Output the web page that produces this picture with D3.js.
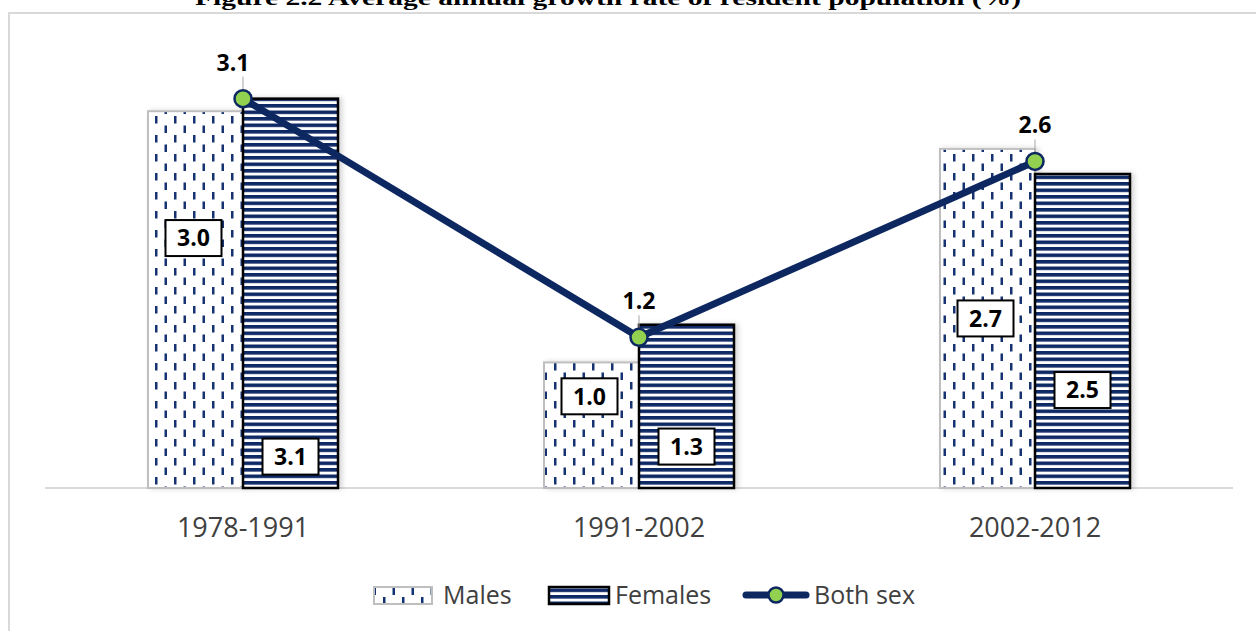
<!DOCTYPE html>
<html>
<head>
<meta charset="utf-8">
<script src="https://cdn.jsdelivr.net/npm/d3@7"></script>
<style>
  body { margin: 0; background: #fff; }
  svg { display: block; }
</style>
</head>
<body>
<script>
// chart values
var periods = ["1978-1991", "1991-2002", "2002-2012"];
var males = [3.0, 1.0, 2.7];
var females = [3.1, 1.3, 2.5];
var bothSex = [3.1, 1.2, 2.6];
// where the boxed labels sit inside the bars (in value units, as moved in the original)
var malesLabelAt = [1.99, 0.73, 1.35];
var femalesLabelAt = [0.25, 0.33, 0.78];
var legendNames = ["Males", "Females", "Both sex"];
var title = "Figure 2.2 Average annual growth rate of resident population (%)";

var W = 1256, H = 631;
var navy = "#0f2a66";
var lineNavy = "#0d2861";

var svg = d3.select("body").append("svg")
    .attr("width", W)
    .attr("height", H);

var defs = svg.append("defs");

// dotted vertical dashes for males
var pm = defs.append("pattern")
    .attr("id", "malesPat")
    .attr("patternUnits", "userSpaceOnUse")
    .attr("width", 19).attr("height", 19);
pm.append("rect").attr("width", 19).attr("height", 19).attr("fill", "#fff");
pm.append("rect").attr("x", 3).attr("y", 2).attr("width", 2.5).attr("height", 7.5).attr("fill", "#133271");
pm.append("rect").attr("x", 12.5).attr("y", 11.5).attr("width", 2.5).attr("height", 7.5).attr("fill", "#133271");

// horizontal stripes for females
var pf = defs.append("pattern")
    .attr("id", "femalesPat")
    .attr("patternUnits", "userSpaceOnUse")
    .attr("width", 10).attr("height", 6.5);
pf.append("rect").attr("width", 10).attr("height", 6.5).attr("fill", "#fff");
pf.append("rect").attr("y", 0).attr("width", 10).attr("height", 3.6).attr("fill", navy);

var shadow = defs.append("filter").attr("id", "shadow")
    .attr("x", "-10%").attr("y", "-10%").attr("width", "130%").attr("height", "130%");
shadow.append("feDropShadow")
    .attr("dx", 3).attr("dy", 0).attr("stdDeviation", 2.5)
    .attr("flood-color", "#000").attr("flood-opacity", 0.16);

// title, cut off by the top edge as in the original
svg.append("text")
    .attr("x", 608)
    .attr("y", 5)
    .attr("text-anchor", "middle")
    .attr("font-family", "'Liberation Serif', 'Times New Roman', serif")
    .attr("font-weight", "bold")
    .attr("font-size", 22)
    .attr("textLength", 826)
    .attr("lengthAdjust", "spacingAndGlyphs")
    .attr("fill", "#000")
    .text(title);

// chart frame
svg.append("rect")
    .attr("x", 9).attr("y", 13)
    .attr("width", 1260).attr("height", 640)
    .attr("fill", "#fff")
    .attr("stroke", "#d9d9d9")
    .attr("stroke-width", 2);

var x = d3.scaleBand().domain(periods).range([45, 1233]);
var y = d3.scaleLinear().domain([0, 3.5]).range([488, 48.4]);
var barW = 95;

var g = svg.append("g");

// baseline
g.append("line")
    .attr("x1", 45).attr("x2", 1233)
    .attr("y1", y(0)).attr("y2", y(0))
    .attr("stroke", "#d9d9d9")
    .attr("stroke-width", 2);

function cx(i) { return x(periods[i]) + x.bandwidth() / 2; }

// males bars
g.selectAll(".males").data(males).enter().append("rect")
    .attr("class", "males")
    .attr("x", function(d, i) { return cx(i) - barW; })
    .attr("y", function(d) { return y(d); })
    .attr("width", barW)
    .attr("height", function(d) { return y(0) - y(d); })
    .attr("fill", "url(#malesPat)")
    .attr("stroke", "#bfbfbf")
    .attr("stroke-width", 2)
    .attr("filter", "url(#shadow)");

// females bars
g.selectAll(".females").data(females).enter().append("rect")
    .attr("class", "females")
    .attr("x", function(d, i) { return cx(i); })
    .attr("y", function(d) { return y(d); })
    .attr("width", barW)
    .attr("height", function(d) { return y(0) - y(d); })
    .attr("fill", "url(#femalesPat)")
    .attr("stroke", "#000")
    .attr("stroke-width", 2.5)
    .attr("filter", "url(#shadow)");

// boxed value labels
function boxLabel(px, py, txt) {
    var lg = g.append("g").attr("transform", "translate(" + px + "," + py + ")");
    lg.append("rect")
        .attr("x", -28).attr("y", -18)
        .attr("width", 56).attr("height", 36)
        .attr("fill", "#fff")
        .attr("stroke", "#000")
        .attr("stroke-width", 2);
    lg.append("text")
        .attr("text-anchor", "middle")
        .attr("dy", "0.36em")
        .attr("font-family", "'Open Sans', sans-serif")
        .attr("font-weight", "bold")
        .attr("font-size", 23)
        .attr("fill", "#000")
        .text(txt);
}
males.forEach(function(d, i) { boxLabel(cx(i) - barW / 2 - 2, y(malesLabelAt[i]), d3.format(".1f")(d)); });
females.forEach(function(d, i) { boxLabel(cx(i) + barW / 2, y(femalesLabelAt[i]), d3.format(".1f")(d)); });

// both sex line
var line = d3.line()
    .x(function(d, i) { return cx(i); })
    .y(function(d) { return y(d); });

g.append("path")
    .datum(bothSex)
    .attr("fill", "none")
    .attr("stroke", lineNavy)
    .attr("stroke-width", 7)
    .attr("stroke-linejoin", "round")
    .attr("stroke-linecap", "round")
    .attr("d", line);

// leader lines and labels for both sex
bothSex.forEach(function(d, i) {
    g.append("line")
        .attr("x1", cx(i)).attr("x2", cx(i))
        .attr("y1", y(d) - 22).attr("y2", y(d))
        .attr("stroke", "#a6a6a6")
        .attr("stroke-width", 1);
    g.append("text")
        .attr("x", cx(i) - (i == 0 ? 10 : 0))
        .attr("y", y(d) - 28)
        .attr("text-anchor", "middle")
        .attr("font-family", "'Open Sans', sans-serif")
        .attr("font-weight", "bold")
        .attr("font-size", 23)
        .attr("fill", "#000")
        .text(d3.format(".1f")(d));
});

g.selectAll(".dot").data(bothSex).enter().append("circle")
    .attr("class", "dot")
    .attr("cx", function(d, i) { return cx(i); })
    .attr("cy", function(d) { return y(d); })
    .attr("r", 8.5)
    .attr("fill", "#92d050")
    .attr("stroke", lineNavy)
    .attr("stroke-width", 2.5);

// category axis labels
var xaxis = g.append("g")
    .attr("transform", "translate(0," + y(0) + ")")
    .call(d3.axisBottom(x).tickSize(0).tickPadding(30));
xaxis.select(".domain").remove();
xaxis.selectAll("text")
    .attr("font-family", "'Open Sans', sans-serif")
    .attr("font-size", 27)
    .attr("fill", "#404040");

// legend
var legend = svg.append("g").attr("transform", "translate(0,595)");
var legFont = { family: "'Open Sans', sans-serif", size: 25 };

legend.append("rect")
    .attr("x", 374).attr("y", -8)
    .attr("width", 58).attr("height", 17)
    .attr("fill", "url(#malesPat)")
    .attr("stroke", "#bfbfbf").attr("stroke-width", 2);
legend.append("rect")
    .attr("x", 549).attr("y", -8)
    .attr("width", 60).attr("height", 17)
    .attr("fill", "url(#femalesPat)")
    .attr("stroke", "#000").attr("stroke-width", 2.5);
legend.append("line")
    .attr("x1", 746).attr("x2", 806)
    .attr("stroke", lineNavy).attr("stroke-width", 7)
    .attr("stroke-linecap", "round");
legend.append("circle")
    .attr("cx", 776).attr("r", 7.5)
    .attr("fill", "#92d050")
    .attr("stroke", lineNavy).attr("stroke-width", 2.5);

var legX = [443, 615, 814];
legendNames.forEach(function(n, i) {
    legend.append("text")
        .attr("x", legX[i])
        .attr("dy", "0.36em")
        .attr("font-family", legFont.family)
        .attr("font-size", legFont.size)
        .attr("fill", "#404040")
        .text(n);
});
</script>
</body>
</html>
